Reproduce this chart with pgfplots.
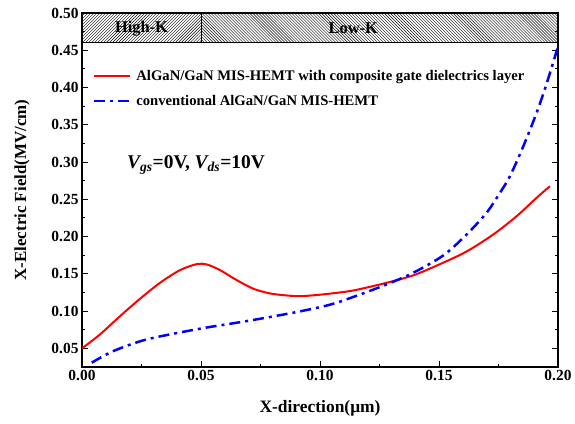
\documentclass[border=0pt]{standalone}
\usepackage{fontspec}
\setmainfont{Liberation Serif}
\usepackage{pgfplots}
\pgfplotsset{compat=1.18}
\usetikzlibrary{patterns}
\pgfplotstableread{
x y
0.0000 0.050
0.0076 0.0688
0.0160 0.0933
0.0244 0.1166
0.0328 0.138
0.0412 0.155
0.0482 0.163
0.0524 0.1626
0.0580 0.155
0.0650 0.1416
0.0720 0.130
0.0790 0.1237
0.0860 0.121
0.0916 0.120
0.0972 0.1212
0.1035 0.1232
0.1140 0.1277
0.1280 0.138
0.1392 0.148
0.1504 0.163
0.1616 0.180
0.1728 0.2028
0.1826 0.2273
0.1910 0.252
0.1966 0.2676
}\redtab
\pgfplotstableread{
x y
0.0041 0.0308
0.0132 0.0464
0.0272 0.062
0.0496 0.0764
0.0692 0.0866
0.0888 0.0979
0.1035 0.108
0.1140 0.119
0.1280 0.1358
0.1392 0.1515
0.1518 0.1747
0.1616 0.2028
0.1700 0.232
0.1756 0.2587
0.1798 0.281
0.1854 0.321
0.1910 0.366
0.1953 0.406
0.2000 0.455
}\bluetab
\begin{document}
\begin{tikzpicture}
\begin{axis}[
  width=476bp, height=354bp, scale only axis,
  xmin=0, xmax=0.2, ymin=0.025, ymax=0.5,
  xtick={0,0.05,0.1,0.15,0.2},
  ytick={0.05,0.1,0.15,0.2,0.25,0.3,0.35,0.4,0.45,0.5},
  minor x tick num=1, minor y tick num=1,
  xtick pos=left,
  tick align=inside,
  major tick length=6bp, minor tick length=3.5bp,
  axis line style={line width=1.3bp},
  every tick/.style={black, line width=1bp},
  /pgf/number format/assume math mode=true,
  /pgf/number format/fixed, /pgf/number format/fixed zerofill, /pgf/number format/precision=2,
  scaled ticks=false,
  tick label style={font=\fontsize{15.5}{15.5}\selectfont\bfseries},
  legend cell align=left,
  legend style={at={(axis cs:0.0045,0.426)}, anchor=north west, draw=none, fill=none,
    font=\fontsize{14.7}{14.7}\selectfont\bfseries, row sep=9bp, inner sep=0pt,
    nodes={inner xsep=5bp}},
  legend image code/.code={\draw[#1] (0bp,0bp) -- (36bp,0bp);},
]
\draw[line width=1bp, pattern=north east lines] (axis cs:0,0.46) rectangle (axis cs:0.05,0.5);
\draw[line width=1bp, pattern=north west lines] (axis cs:0.05,0.46) rectangle (axis cs:0.2,0.5);
\node[font=\fontsize{16.5}{16.5}\selectfont\bfseries] at (axis cs:0.025,0.479) {High-K};
\node[font=\fontsize{16.5}{16.5}\selectfont\bfseries] at (axis cs:0.114,0.479) {Low-K};
\addplot[red, line width=2bp, smooth] table[x=x,y=y] {\redtab};
\addlegendentry{AlGaN/GaN MIS-HEMT with composite gate dielectrics layer}
\addplot[blue, line width=2.5bp, smooth, dash pattern=on 11bp off 5bp on 3bp off 5bp] table[x=x,y=y] {\bluetab};
\addlegendentry{conventional AlGaN/GaN MIS-HEMT}
\node[anchor=west, font=\fontsize{19.5}{19.5}\selectfont\bfseries] at (axis cs:0.0175,0.296) {{\itshape V}\textsubscript{\itshape gs}=0V, {\itshape V}\textsubscript{\itshape ds}=10V};
\coordinate (ll) at (rel axis cs:0,0);
\coordinate (ur) at (rel axis cs:1,1);
\coordinate (ylab) at (rel axis cs:0,0.5);
\coordinate (xlab) at (rel axis cs:0.5,0);
\end{axis}
\node[rotate=90, font=\fontsize{17}{17}\selectfont\bfseries] at ([xshift=-60bp]ylab) {X-Electric Field(MV/cm)};
\node[font=\fontsize{17.5}{17.5}\selectfont\bfseries] at ([yshift=-41bp]xlab) {X-direction(μm)};
\pgfresetboundingbox
\path ([xshift=-82bp,yshift=-57bp]ll) rectangle ([xshift=17bp,yshift=13bp]ur);
\end{tikzpicture}
\end{document}
